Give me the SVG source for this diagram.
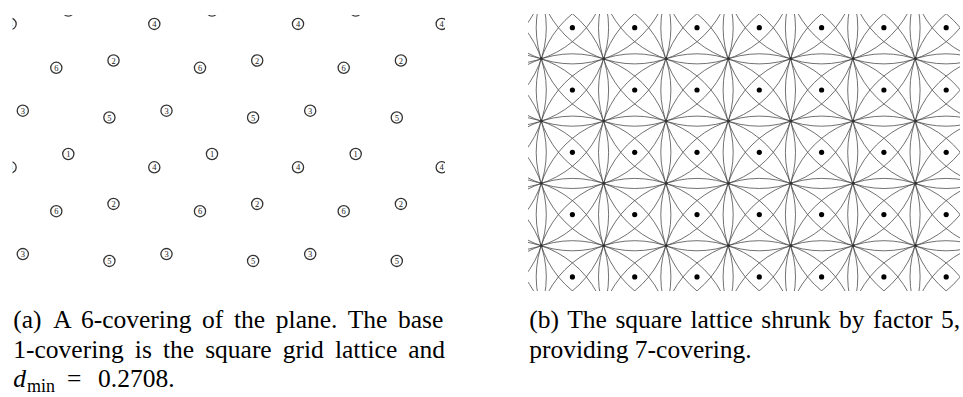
<svg xmlns="http://www.w3.org/2000/svg" xmlns:xlink="http://www.w3.org/1999/xlink" width="963" height="397" viewBox="0 0 963 397">
<style>
.ring{fill:#fff;stroke:#333;stroke-width:1.3}
.num{font-family:"Liberation Serif","Times New Roman",serif;font-size:8.5px;fill:#222;text-anchor:middle}
.arc{fill:none;stroke:#4d4d4d;stroke-width:0.8}
.dot{fill:#000}
.star{fill:#333}
.cap{font-family:"Liberation Serif","Times New Roman",serif;font-size:25.5px;fill:#000}
</style>
<defs>
<clipPath id="clipA"><rect x="12.5" y="15" width="432.5" height="262"/></clipPath>
<clipPath id="clipB"><rect x="528" y="14" width="432" height="277"/></clipPath>
<g id="n1"><circle class="ring" r="5.6"/><text class="num" y="3">1</text></g>
<g id="n2"><circle class="ring" r="5.6"/><text class="num" y="3">2</text></g>
<g id="n3"><circle class="ring" r="5.6"/><text class="num" y="3">3</text></g>
<g id="n4"><circle class="ring" r="5.6"/><text class="num" y="3">4</text></g>
<g id="n5"><circle class="ring" r="5.6"/><text class="num" y="3">5</text></g>
<g id="n6"><circle class="ring" r="5.6"/><text class="num" y="3">6</text></g>
<g id="col" class="arc">
<circle cx="0" cy="-34.6" r="98.5"/><circle cx="0" cy="27.7" r="98.5"/><circle cx="0" cy="90" r="98.5"/><circle cx="0" cy="152.3" r="98.5"/><circle cx="0" cy="214.6" r="98.5"/><circle cx="0" cy="276.9" r="98.5"/><circle cx="0" cy="339.2" r="98.5"/>
</g>
<g id="dcol" class="dot">
<circle cx="0" cy="27.7" r="2.6"/><circle cx="0" cy="90" r="2.6"/><circle cx="0" cy="152.3" r="2.6"/><circle cx="0" cy="214.6" r="2.6"/><circle cx="0" cy="276.9" r="2.6"/>
</g>
<g id="scol" class="star">
<circle cx="0" cy="58.6" r="1.5"/><circle cx="0" cy="120.9" r="1.5"/><circle cx="0" cy="183.2" r="1.5"/><circle cx="0" cy="245.6" r="1.5"/>
</g>
</defs>

<g id="panelA" clip-path="url(#clipA)">
<use xlink:href="#n1" x="68.3" y="10.6"/><use xlink:href="#n1" x="212" y="10.6"/><use xlink:href="#n1" x="355.7" y="10.6"/>
<use xlink:href="#n1" x="68.3" y="154"/><use xlink:href="#n1" x="212" y="154"/><use xlink:href="#n1" x="355.7" y="154"/>
<use xlink:href="#n4" x="10.6" y="23.9"/><use xlink:href="#n4" x="154.3" y="23.9"/><use xlink:href="#n4" x="298" y="23.9"/><use xlink:href="#n4" x="441.7" y="23.9"/>
<use xlink:href="#n4" x="10.6" y="167.3"/><use xlink:href="#n4" x="154.3" y="167.3"/><use xlink:href="#n4" x="298" y="167.3"/><use xlink:href="#n4" x="441.7" y="167.3"/>
<use xlink:href="#n6" x="56.3" y="67.8"/><use xlink:href="#n6" x="200" y="67.8"/><use xlink:href="#n6" x="343.7" y="67.8"/>
<use xlink:href="#n6" x="56.3" y="211.2"/><use xlink:href="#n6" x="200" y="211.2"/><use xlink:href="#n6" x="343.7" y="211.2"/>
<use xlink:href="#n2" x="113.5" y="60.5"/><use xlink:href="#n2" x="257.2" y="60.5"/><use xlink:href="#n2" x="400.9" y="60.5"/>
<use xlink:href="#n2" x="113.5" y="203.9"/><use xlink:href="#n2" x="257.2" y="203.9"/><use xlink:href="#n2" x="400.9" y="203.9"/>
<use xlink:href="#n3" x="22.8" y="110.7"/><use xlink:href="#n3" x="166.5" y="110.7"/><use xlink:href="#n3" x="310.2" y="110.7"/>
<use xlink:href="#n3" x="22.8" y="254.1"/><use xlink:href="#n3" x="166.5" y="254.1"/><use xlink:href="#n3" x="310.2" y="254.1"/>
<use xlink:href="#n5" x="109.4" y="117.5"/><use xlink:href="#n5" x="253.1" y="117.5"/><use xlink:href="#n5" x="396.8" y="117.5"/>
<use xlink:href="#n5" x="109.4" y="260.9"/><use xlink:href="#n5" x="253.1" y="260.9"/><use xlink:href="#n5" x="396.8" y="260.9"/>
</g>

<g id="panelB" clip-path="url(#clipB)">
<use xlink:href="#col" x="447.8"/><use xlink:href="#col" x="510.1"/><use xlink:href="#col" x="572.4"/><use xlink:href="#col" x="634.7"/><use xlink:href="#col" x="697"/>
<use xlink:href="#col" x="759.3"/><use xlink:href="#col" x="821.6"/><use xlink:href="#col" x="883.9"/><use xlink:href="#col" x="946.2"/><use xlink:href="#col" x="1008.5"/>
<use xlink:href="#scol" x="541.4"/><use xlink:href="#scol" x="603.8"/><use xlink:href="#scol" x="666.2"/><use xlink:href="#scol" x="728.6"/><use xlink:href="#scol" x="791"/><use xlink:href="#scol" x="853.4"/><use xlink:href="#scol" x="915.8"/>
<use xlink:href="#dcol" x="572.4"/><use xlink:href="#dcol" x="634.7"/><use xlink:href="#dcol" x="697"/><use xlink:href="#dcol" x="759.3"/><use xlink:href="#dcol" x="821.6"/><use xlink:href="#dcol" x="883.9"/><use xlink:href="#dcol" x="946.2"/>
</g>

<g id="captionA" class="cap">
<text x="13.3" y="328">(a)</text>
<text x="53.3" y="328" word-spacing="4.3">A 6-covering of the plane. The base</text>
<text x="13.3" y="357.5" word-spacing="4.7">1-covering is the square grid lattice and</text>
<text x="13.3" y="387"><tspan font-style="italic">d</tspan><tspan x="27" dy="5" font-size="18">min</tspan><tspan x="67" dy="-5">=</tspan><tspan x="98">0.2708.</tspan></text>
</g>
<g id="captionB" class="cap">
<text x="529.3" y="328">(b)</text>
<text x="567.3" y="328" word-spacing="2.1">The square lattice shrunk by factor 5,</text>
<text x="529.3" y="357.5">providing 7-covering.</text>
</g>
</svg>
